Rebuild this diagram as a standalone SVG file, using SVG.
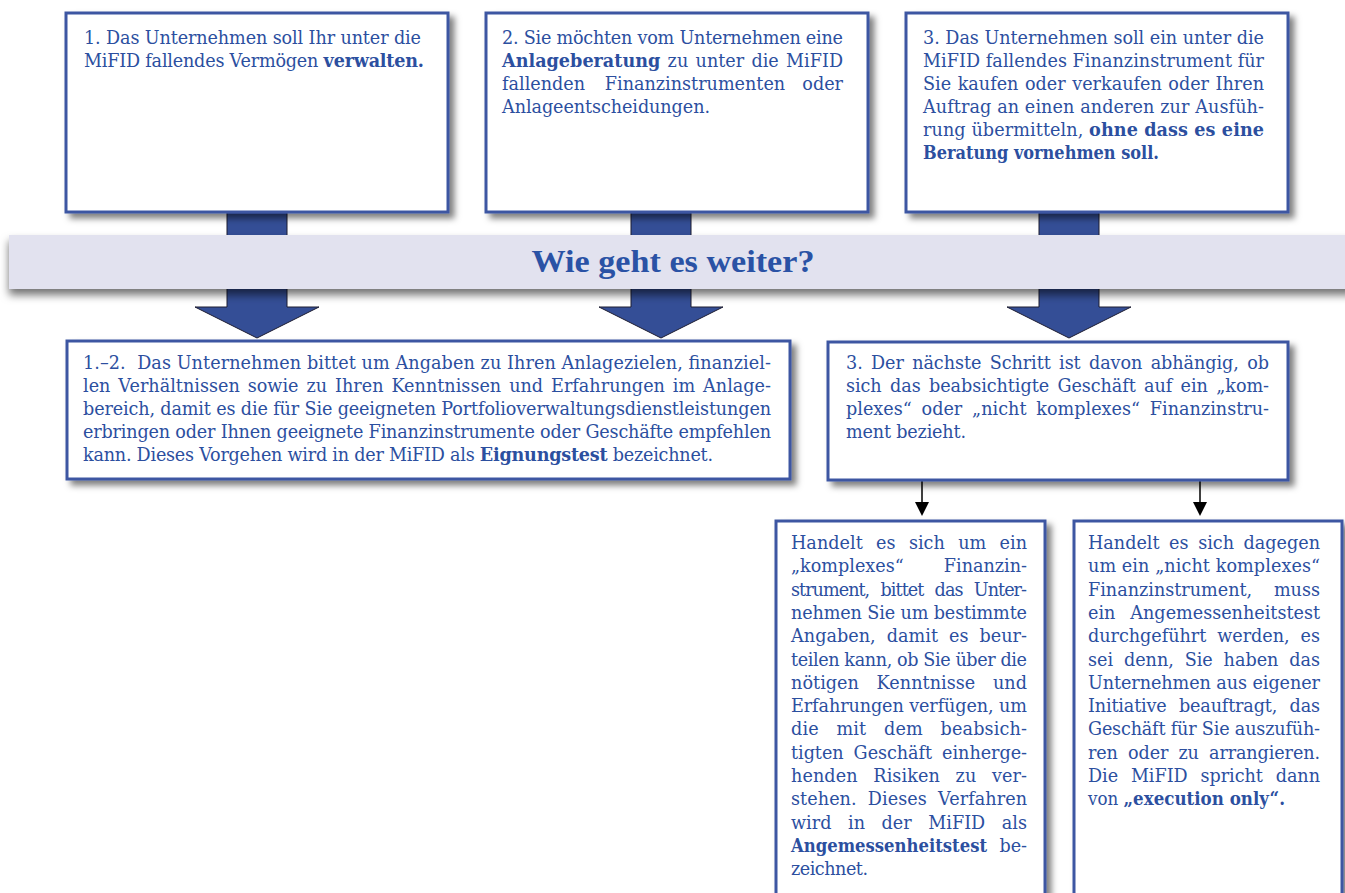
<svg xmlns="http://www.w3.org/2000/svg" width="1345" height="893" viewBox="0 0 1345 893">
<defs>
<style>
.box{fill:#ffffff;stroke:#3d56a2;stroke-width:3;}
.t{font-family:"DejaVu Serif","Liberation Serif",serif;fill:#2c4f9f;font-size:17.6px;}
.b{font-weight:bold;}
.arrow{fill:#344e96;stroke:#1c1c30;stroke-width:1;}
.conn{stroke:#000;stroke-width:1.5;fill:none;}
.head{fill:#000;}
</style>
<filter id="sh" x="-10%" y="-10%" width="130%" height="140%">
<feDropShadow dx="5" dy="5" stdDeviation="3" flood-color="#000" flood-opacity="0.5"/>
</filter>
<filter id="shb" x="-5%" y="-30%" width="115%" height="180%">
<feDropShadow dx="0" dy="6" stdDeviation="4" flood-color="#000" flood-opacity="0.55"/>
</filter>
</defs>
<rect width="1345" height="893" fill="#ffffff"/>

<g id="connectors">
<polygon class="arrow" points="227,205 287,205 287,307 319,307 257,338 195,307 227,307"/>
<polygon class="arrow" points="631,205 691,205 691,307 723,307 661,338 599,307 631,307"/>
<polygon class="arrow" points="1039,205 1099,205 1099,307 1131,307 1069,338 1007,307 1039,307"/>
<path class="conn" d="M922,481 L922,503"/>
<polygon class="head" points="915,502 929,502 922,516"/>
<path class="conn" d="M1200,481 L1200,503"/>
<polygon class="head" points="1193,502 1207,502 1200,516"/>
</g>

<g id="banner">
<rect x="9" y="235" width="1345" height="54" fill="#e2e2ef" filter="url(#shb)"/>
<text x="673" y="272" font-family="Liberation Serif, serif" font-weight="bold" font-size="32" text-anchor="middle" textLength="283" lengthAdjust="spacingAndGlyphs" fill="#2a52a5">Wie geht es weiter?</text>
</g>

<g id="box1">
<rect class="box" x="66" y="13" width="382" height="199" filter="url(#sh)"/>
<text class="t" x="84" y="44" textLength="337" lengthAdjust="spacing">1. Das Unternehmen soll Ihr unter die</text>
<text class="t" x="84" y="67" textLength="340" lengthAdjust="spacing">MiFID fallendes Vermögen <tspan class="b">verwalten.</tspan></text>
</g>

<g id="box2">
<rect class="box" x="486" y="13" width="382" height="199" filter="url(#sh)"/>
<text class="t" x="502" y="44" textLength="341" lengthAdjust="spacing">2. Sie möchten vom Unternehmen eine</text>
<text class="t" x="502" y="67" textLength="341" lengthAdjust="spacing" style="word-spacing:1.7px"><tspan class="b">Anlageberatung</tspan> zu unter die MiFID</text>
<text class="t" x="502" y="90">fallenden</text>
<text class="t" x="695" y="90" text-anchor="middle">Finanzinstrumenten</text>
<text class="t" x="843" y="90" text-anchor="end">oder</text>
<text class="t" x="502" y="113" textLength="208" lengthAdjust="spacing">Anlageentscheidungen.</text>
</g>

<g id="box3">
<rect class="box" x="906" y="13" width="382" height="199" filter="url(#sh)"/>
<text class="t" x="923" y="44" textLength="341" lengthAdjust="spacing">3. Das Unternehmen soll ein unter die</text>
<text class="t" x="923" y="67" textLength="341" lengthAdjust="spacing">MiFID fallendes Finanzinstrument für</text>
<text class="t" x="923" y="90" textLength="341" lengthAdjust="spacing" style="word-spacing:1px">Sie kaufen oder verkaufen oder Ihren</text>
<text class="t" x="923" y="113" textLength="341" lengthAdjust="spacing">Auftrag an einen anderen zur Ausfüh-</text>
<text class="t" x="923" y="136" textLength="341" lengthAdjust="spacing">rung übermitteln, <tspan class="b">ohne dass es eine</tspan></text>
<text class="t b" x="923" y="159" textLength="236" lengthAdjust="spacingAndGlyphs">Beratung vornehmen soll.</text>
</g>

<g id="box4">
<rect class="box" x="67" y="341" width="723" height="138" filter="url(#sh)"/>
<text class="t" x="83" y="369" textLength="688" lengthAdjust="spacing">1.–2.&#160; Das Unternehmen bittet um Angaben zu Ihren Anlagezielen, finanziel-</text>
<text class="t" x="83" y="392" textLength="688" lengthAdjust="spacing" style="word-spacing:2.3px">len Verhältnissen sowie zu Ihren Kenntnissen und Erfahrungen im Anlage-</text>
<text class="t" x="83" y="415" textLength="688" lengthAdjust="spacing">bereich, damit es die für Sie geeigneten Portfolioverwaltungsdienstleistungen</text>
<text class="t" x="83" y="438" textLength="688" lengthAdjust="spacing">erbringen oder Ihnen geeignete Finanzinstrumente oder Geschäfte empfehlen</text>
<text class="t" x="83" y="461" textLength="630" lengthAdjust="spacing">kann. Dieses Vorgehen wird in der MiFID als <tspan class="b">Eignungstest</tspan> bezeichnet.</text>
</g>

<g id="box5">
<rect class="box" x="828" y="342" width="460" height="138" filter="url(#sh)"/>
<text class="t" x="846" y="369" textLength="423" lengthAdjust="spacing" style="word-spacing:2.8px">3. Der nächste Schritt ist davon abhängig, ob</text>
<text class="t" x="846" y="392" textLength="423" lengthAdjust="spacing" style="word-spacing:2.8px">sich das beabsichtigte Geschäft auf ein „kom-</text>
<text class="t" x="846" y="415" textLength="423" lengthAdjust="spacing" style="word-spacing:4.2px">plexes“ oder „nicht komplexes“ Finanzinstru-</text>
<text class="t" x="846" y="438" textLength="120" lengthAdjust="spacing">ment bezieht.</text>
</g>

<g id="box6">
<rect class="box" x="776" y="521" width="269" height="390" filter="url(#sh)"/>
<text class="t" x="791" y="549" textLength="236" lengthAdjust="spacing" style="word-spacing:7.7px">Handelt es sich um ein</text>
<text class="t" x="791" y="572">„komplexes“</text>
<text class="t" x="1027" y="572" text-anchor="end">Finanzin-</text>
<text class="t" x="791" y="596" textLength="236" lengthAdjust="spacing" style="word-spacing:6.7px">strument, bittet das Unter-</text>
<text class="t" x="791" y="619" textLength="236" lengthAdjust="spacing">nehmen Sie um bestimmte</text>
<text class="t" x="791" y="642" textLength="236" lengthAdjust="spacing" style="word-spacing:5.3px">Angaben, damit es beur-</text>
<text class="t" x="791" y="666" textLength="236" lengthAdjust="spacing">teilen kann, ob Sie über die</text>
<text class="t" x="791" y="689" textLength="236" lengthAdjust="spacing" style="word-spacing:12px">nötigen Kenntnisse und</text>
<text class="t" x="791" y="712" textLength="236" lengthAdjust="spacing">Erfahrungen verfügen, um</text>
<text class="t" x="791" y="735" textLength="236" lengthAdjust="spacing" style="word-spacing:12px">die mit dem beabsich-</text>
<text class="t" x="791" y="759" textLength="236" lengthAdjust="spacing" style="word-spacing:4.5px">tigten Geschäft einherge-</text>
<text class="t" x="791" y="782" textLength="236" lengthAdjust="spacing" style="word-spacing:10px">henden Risiken zu ver-</text>
<text class="t" x="791" y="805" textLength="236" lengthAdjust="spacing" style="word-spacing:5.5px">stehen. Dieses Verfahren</text>
<text class="t" x="791" y="829" textLength="236" lengthAdjust="spacing" style="word-spacing:11px">wird in der MiFID als</text>
<text class="t b" x="791" y="852" textLength="196" lengthAdjust="spacingAndGlyphs">Angemessenheitstest</text>
<text class="t" x="1027" y="852" text-anchor="end">be-</text>
<text class="t" x="791" y="875" textLength="77" lengthAdjust="spacing">zeichnet.</text>
</g>

<g id="box7">
<rect class="box" x="1074" y="521" width="268" height="390" filter="url(#sh)"/>
<text class="t" x="1088" y="549" textLength="232" lengthAdjust="spacing" style="word-spacing:4px">Handelt es sich dagegen</text>
<text class="t" x="1088" y="572" textLength="232" lengthAdjust="spacing">um ein „nicht komplexes“</text>
<text class="t" x="1088" y="596">Finanzinstrument,</text>
<text class="t" x="1320" y="596" text-anchor="end">muss</text>
<text class="t" x="1088" y="619">ein</text>
<text class="t" x="1320" y="619" text-anchor="end">Angemessenheitstest</text>
<text class="t" x="1088" y="642" textLength="232" lengthAdjust="spacing" style="word-spacing:5.5px">durchgeführt werden, es</text>
<text class="t" x="1088" y="666" textLength="232" lengthAdjust="spacing" style="word-spacing:5.2px">sei denn, Sie haben das</text>
<text class="t" x="1088" y="689" textLength="232" lengthAdjust="spacing">Unternehmen aus eigener</text>
<text class="t" x="1088" y="712" textLength="232" lengthAdjust="spacing" style="word-spacing:7px">Initiative beauftragt, das</text>
<text class="t" x="1088" y="735" textLength="232" lengthAdjust="spacing">Geschäft für Sie auszufüh-</text>
<text class="t" x="1088" y="759" textLength="232" lengthAdjust="spacing" style="word-spacing:4.7px">ren oder zu arrangieren.</text>
<text class="t" x="1088" y="782" textLength="232" lengthAdjust="spacing" style="word-spacing:7.3px">Die MiFID spricht dann</text>
<text class="t" x="1088" y="805" textLength="197" lengthAdjust="spacingAndGlyphs">von <tspan class="b">„execution only“.</tspan></text>
</g>
</svg>
